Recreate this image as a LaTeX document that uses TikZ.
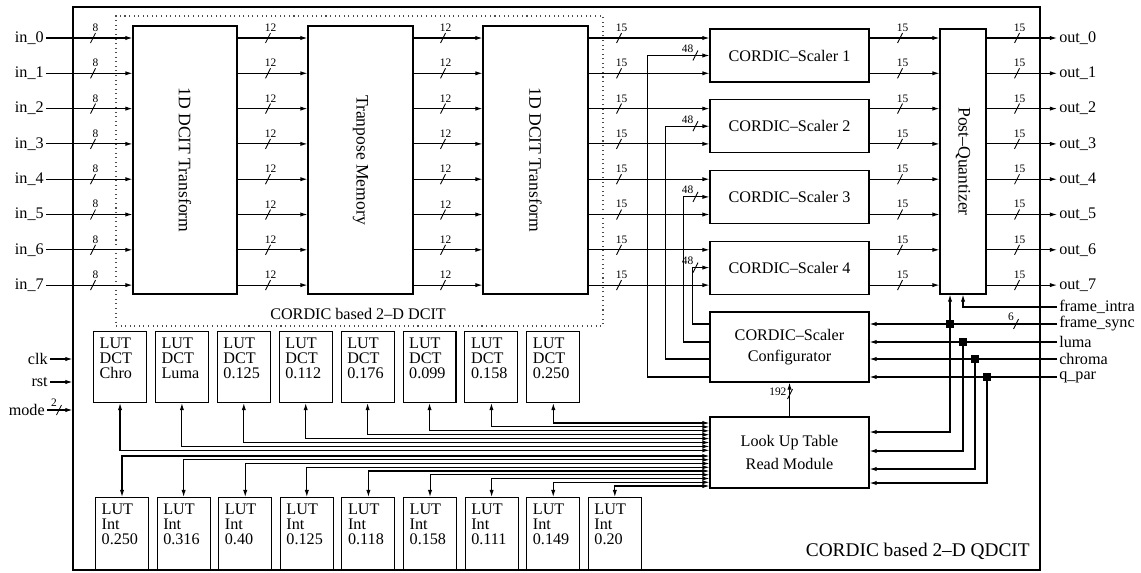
\documentclass[tikz,border=0pt]{standalone}
\usepackage{fontspec}
\setmainfont{Liberation Serif}
\usetikzlibrary{arrows.meta,positioning,calc,fit}

\tikzset{
  blk/.style={draw,line width=0.6pt,inner sep=0pt},
  lbl/.style={inner sep=1pt},
  vlbl/.style={rotate=-90,font=\fontsize{10}{12}\selectfont},
  buslbl/.style={font=\fontsize{6.5}{7}\selectfont,inner sep=0.6pt},
  bus/.pic={\draw[line width=0.5pt] (-2.5,5) -- (2.5,-5) node[buslbl,anchor=south]{#1};},
  busl/.pic={\draw[line width=0.5pt] (-2.5,5) -- (2.5,-5); \node[buslbl,anchor=south east] at (-0.5,-1.5) {#1};},
  busw/.pic={\draw[line width=0.5pt] (-2.5,5) -- (2.5,-5); \node[buslbl,anchor=east] at (-2,-2) {#1};},
  junc/.style={fill,inner sep=0pt,minimum size=0.16cm},
  lutbox/.style={draw,line width=0.6pt,minimum width=1.06cm,minimum height=1.42cm,inner sep=0pt,anchor=north west},
  luttxt/.style={align=left,anchor=north west,inner sep=3.5pt,font=\fontsize{9.2}{8.5}\selectfont}
}

\begin{document}
\begin{tikzpicture}[x=0.02cm,y=-0.02cm,>={Latex[length=4pt,width=2.4pt]},font=\fontsize{9.2}{11}\selectfont,line width=0.6pt]
  \useasboundingbox (0,0) rectangle (1141,572);
  % chip outline and the 2-D DCIT group
  \node[blk,fit={(73,7) (1040,570)}] (chip) {};
  \node[draw=black!70,dotted,inner sep=0pt,fit={(116,16) (603,326)}] (dcit) {};
  \node[lbl,anchor=west] (dcitlbl) at (268,314) {CORDIC based 2--D DCIT};
  \node[lbl,anchor=east,font=\fontsize{11}{13}\selectfont] (qdcitlbl) at (1032,551) {CORDIC based 2--D QDCIT};

  % main blocks
  \node[blk,fit={(133,26) (237,294)},label={[vlbl]center:1D DCIT Transform}] (dct1) {};
  \node[blk,fit={(308,26) (413,294)},label={[vlbl]center:Tranpose Memory}] (tmem) {};
  \node[blk,fit={(483,26) (588,294)},label={[vlbl]center:1D DCIT Transform}] (dct2) {};
  \foreach \k in {1,...,4}{
    \pgfmathsetmacro\yt{29+70.7*(\k-1)}
    \node[blk,fit={(710,\yt) (869,\yt+53)},label={center:CORDIC--Scaler \k}] (sc\k) {};
  }
  \node[blk,fit={(940,29) (986,294)},label={[vlbl]center:Post--Quantizer}] (pq) {};
  \node[blk,fit={(710,312) (869,382)},label={[align=center,font=\fontsize{9.2}{12}\selectfont]center:CORDIC--Scaler\\Configurator}] (cfg) {};
  \node[blk,fit={(710,417) (869,488)},label={[align=center,font=\fontsize{9.2}{13}\selectfont]center:Look Up Table\\Read Module}] (lut) {};

  % data path
  \foreach \i in {0,...,7}{
    \pgfmathsetmacro\y{38+35.3*\i}
    \node[lbl,anchor=east] (in\i) at (46,\y) {in\_\i};
    \draw[->] (in\i.east) -- (in\i -| dct1.west);
    \pic at (93,\y) {bus=8};
    \draw[->] (dct1.east |- in\i) -- (tmem.west |- in\i);
    \pic at (268,\y) {bus=12};
    \draw[->] (tmem.east |- in\i) -- (dct2.west |- in\i);
    \pic at (443,\y) {bus=12};
    \draw[->] (dct2.east |- in\i) -- (sc1.west |- in\i);
    \pic at (619,\y) {bus=15};
    \draw[->] (sc1.east |- in\i) -- (pq.west |- in\i);
    \pic at (900,\y) {bus=15};
    \node[lbl,anchor=west] (out\i) at (1057,\y) {out\_\i};
    \draw[->] (pq.east |- out\i) -- (out\i.west);
    \pic at (1017,\y) {bus=15};
  }

  % scaler coefficients from the configurator
  \foreach \k/\dx/\yy in {4/17/324,3/26/342,2/44/359,1/62/377}{
    \draw[->] (cfg.west |- 0,\yy) -| ($(sc\k.west)+(-\dx,0)$) -- (sc\k.west);
    \pic at ($(sc\k.west)+(-14,0)$) {busl=48};
  }

  % control inputs
  \node[lbl,anchor=west] (fintra) at (1057,307) {frame\_intra};
  \node[lbl,anchor=west] (fsync) at (1057,324) {frame\_sync};
  \node[lbl,anchor=west] (luma) at (1057,342) {luma};
  \node[lbl,anchor=west] (chroma) at (1057,359) {chroma};
  \node[lbl,anchor=west] (qpar) at (1057,377) {q\_par};
  \draw[->] (fintra.west) -| (pq.south);
  \draw[->] (fsync.west) -- (fsync -| cfg.east);
  \pic at (1016,324) {busl=6};
  \foreach \n in {luma,chroma,qpar}
    \draw[->] (\n.west) -- (\n -| cfg.east);

  \coordinate (v1) at ($(pq.south)+(-13,0)$);
  \coordinate (v2) at (pq.south);
  \coordinate (v3) at ($(pq.south)+(12,0)$);
  \coordinate (v4) at ($(pq.south)+(24,0)$);
  \draw[<->] (v1) |- (lut.east |- 0,432);
  \draw[->] (v2 |- luma) |- (lut.east |- 0,451);
  \draw[->] (v3 |- chroma) |- (lut.east |- 0,469);
  \draw[->] (v4 |- qpar) |- (lut.east |- 0,483);
  \node[junc] (j1) at (v1 |- fsync) {};
  \node[junc] (j2) at (v2 |- luma) {};
  \node[junc] (j3) at (v3 |- chroma) {};
  \node[junc] (j4) at (v4 |- qpar) {};

  \draw[->] (lut.north) -- (cfg.south);
  \pic at (790,394) {busw=192};

  % clock, reset, mode
  \node[lbl,anchor=east] (clk) at (50,359) {clk};
  \node[lbl,anchor=east] (rst) at (50,382) {rst};
  \node[lbl,anchor=east] (mode) at (47,410) {mode};
  \draw[->] (clk.east) -- (clk -| chip.west);
  \draw[->] (rst.east) -- (rst -| chip.west);
  \draw[->] (mode.east) -- (mode -| chip.west);
  \pic at (59,410) {busl=2};

  % look up tables
  \foreach \val [count=\j] in {Chro,Luma,0.125,0.112,0.176,0.099,0.158,0.250}{
    \pgfmathsetmacro\x{93+61.9*(\j-1)}
    \pgfmathsetmacro\yy{423+3.9*(8-\j)}
    \node[lutbox,label={[luttxt]north west:LUT\\DCT\\\val}] (dctlut\j) at (\x,331) {};
    \draw[<->] (dctlut\j.south) |- (lut.west |- 0,\yy);
  }
  \foreach \val [count=\j] in {0.250,0.316,0.40,0.125,0.118,0.158,0.111,0.149,0.20}{
    \pgfmathsetmacro\x{95+61.6*(\j-1)}
    \pgfmathsetmacro\yy{456+3.75*(\j-1)}
    \node[lutbox,minimum height=1.44cm,label={[luttxt]north west:LUT\\Int\\\val}] (intlut\j) at (\x,497) {};
    \draw[<->] (intlut\j.north) |- (lut.west |- 0,\yy);
  }
\end{tikzpicture}
\end{document}
